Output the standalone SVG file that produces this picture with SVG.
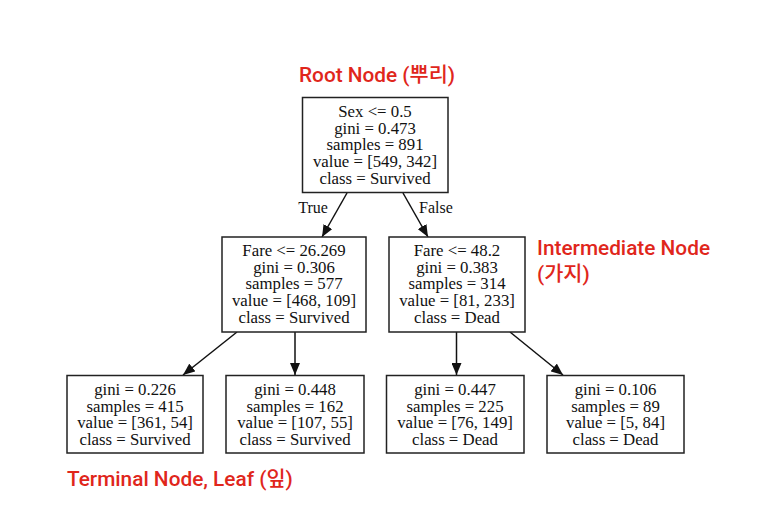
<svg xmlns="http://www.w3.org/2000/svg" width="773" height="528" viewBox="0 0 773 528">
<style>
.box{fill:#fff;stroke:#222;stroke-width:1.5}
.t{font-family:"Liberation Serif","Times New Roman",serif;font-size:16.8px;fill:#111;text-anchor:middle}
.e{stroke:#111;stroke-width:1.5;fill:none}
.lab{font-family:"Liberation Serif","Times New Roman",serif;font-size:16px;fill:#111;text-anchor:middle}
.red{font-family:Roboto,"Liberation Sans","Noto Sans CJK KR",sans-serif;font-weight:500;font-size:20.8px;fill:#e0261b}
</style>
<defs>
<marker id="ah" markerUnits="userSpaceOnUse" markerWidth="12" markerHeight="10" refX="12" refY="5" orient="auto">
<path d="M0,0 L12,5 L0,10 Z" fill="#111"/>
</marker>
</defs>
<rect width="773" height="528" fill="#fff"/>
<g id="connectors">
<line class="e" x1="347" y1="193" x2="322" y2="237" marker-end="url(#ah)"/>
<line class="e" x1="403" y1="193" x2="428" y2="237" marker-end="url(#ah)"/>
<line class="e" x1="237" y1="332" x2="183" y2="375" marker-end="url(#ah)"/>
<line class="e" x1="295" y1="332" x2="295" y2="375" marker-end="url(#ah)"/>
<line class="e" x1="456.5" y1="332" x2="456.5" y2="375" marker-end="url(#ah)"/>
<line class="e" x1="510" y1="332" x2="563" y2="375" marker-end="url(#ah)"/>
<text class="lab" x="313" y="213">True</text>
<text class="lab" x="436" y="213">False</text>
</g>
<g id="root">
<rect class="box" x="302.5" y="97.5" width="145.5" height="95"/>
<text class="t" x="375" y="116.5">Sex &lt;= 0.5</text>
<text class="t" x="375" y="133.5">gini = 0.473</text>
<text class="t" x="375" y="150">samples = 891</text>
<text class="t" x="375" y="166.5">value = [549, 342]</text>
<text class="t" x="375" y="183.5">class = Survived</text>
</g>
<g id="fare1">
<rect class="box" x="222" y="237" width="144" height="95"/>
<text class="t" x="294" y="256">Fare &lt;= 26.269</text>
<text class="t" x="294" y="272.5">gini = 0.306</text>
<text class="t" x="294" y="289">samples = 577</text>
<text class="t" x="294" y="305.5">value = [468, 109]</text>
<text class="t" x="294" y="322.5">class = Survived</text>
</g>
<g id="fare2">
<rect class="box" x="389" y="237" width="136" height="95"/>
<text class="t" x="457" y="256">Fare &lt;= 48.2</text>
<text class="t" x="457" y="272.5">gini = 0.383</text>
<text class="t" x="457" y="289">samples = 314</text>
<text class="t" x="457" y="305.5">value = [81, 233]</text>
<text class="t" x="457" y="322.5">class = Dead</text>
</g>
<g id="leaf1">
<rect class="box" x="67" y="375.5" width="136" height="77.5"/>
<text class="t" x="135" y="395">gini = 0.226</text>
<text class="t" x="135" y="411.5">samples = 415</text>
<text class="t" x="135" y="428">value = [361, 54]</text>
<text class="t" x="135" y="444.5">class = Survived</text>
</g>
<g id="leaf2">
<rect class="box" x="226" y="375.5" width="138" height="77.5"/>
<text class="t" x="295" y="395">gini = 0.448</text>
<text class="t" x="295" y="411.5">samples = 162</text>
<text class="t" x="295" y="428">value = [107, 55]</text>
<text class="t" x="295" y="444.5">class = Survived</text>
</g>
<g id="leaf3">
<rect class="box" x="386.5" y="375.5" width="137.5" height="77.5"/>
<text class="t" x="455" y="395">gini = 0.447</text>
<text class="t" x="455" y="411.5">samples = 225</text>
<text class="t" x="455" y="428">value = [76, 149]</text>
<text class="t" x="455" y="444.5">class = Dead</text>
</g>
<g id="leaf4">
<rect class="box" x="547" y="375.5" width="137" height="77.5"/>
<text class="t" x="615.5" y="395">gini = 0.106</text>
<text class="t" x="615.5" y="411.5">samples = 89</text>
<text class="t" x="615.5" y="428">value = [5, 84]</text>
<text class="t" x="615.5" y="444.5">class = Dead</text>
</g>
<g id="annotations">
<text class="red" x="299" y="81.5">Root Node (뿌리)</text>
<text class="red" x="537" y="254.5">Intermediate Node</text>
<text class="red" x="537" y="281">(가지)</text>
<text class="red" x="67" y="485.5">Terminal Node, Leaf (잎)</text>
</g>
</svg>
